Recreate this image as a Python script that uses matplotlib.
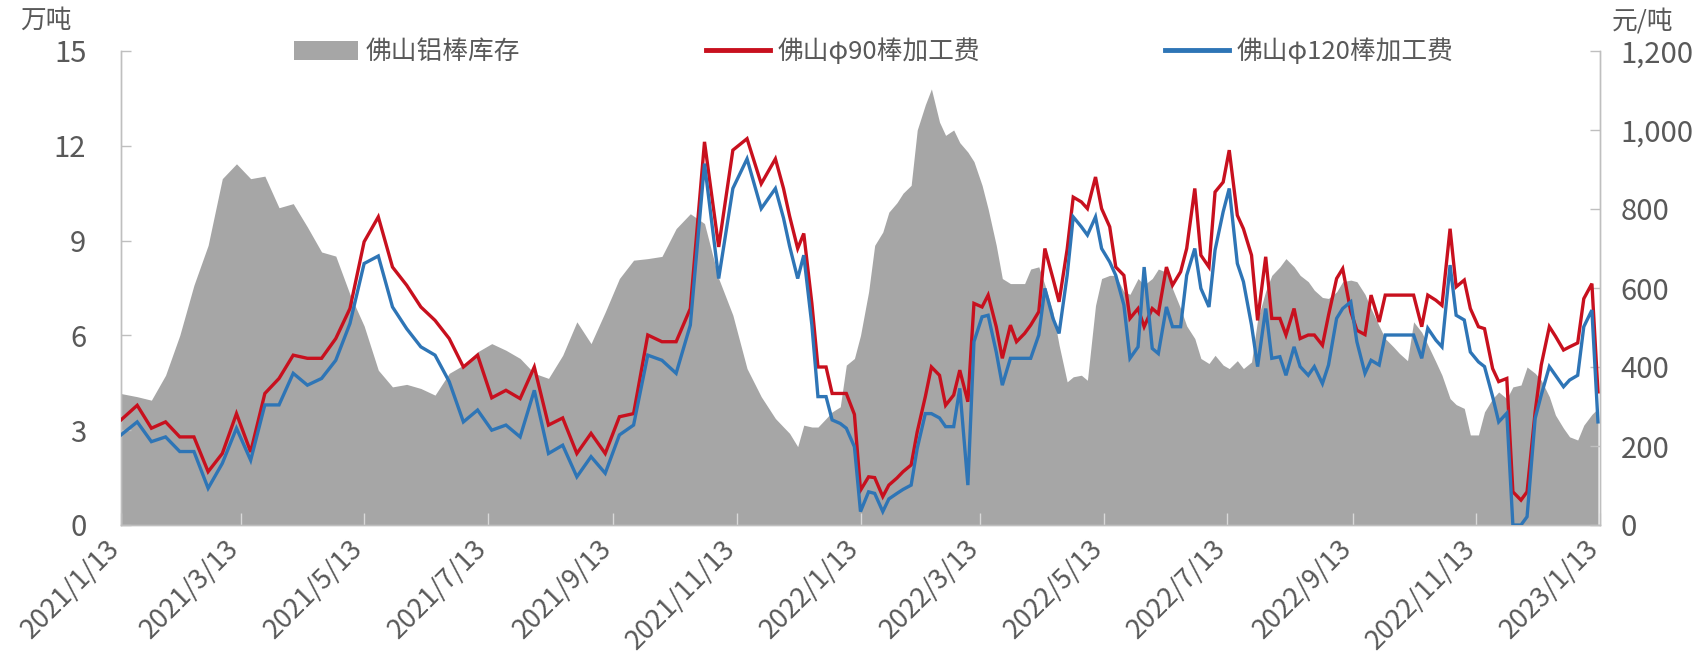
import numpy as np
import pandas as pd
import matplotlib
matplotlib.use("Agg")
import matplotlib.pyplot as plt
from matplotlib.patches import Patch
from matplotlib.lines import Line2D
from matplotlib.ticker import FixedLocator, FuncFormatter
import matplotlib.dates as mdates

plt.rcParams['font.family'] = ['Noto Sans CJK SC', 'DejaVu Sans']

# Weekly (Thursday) reports; the series opens on 2021-01-13
thu_dates = pd.DatetimeIndex(['2021-01-13']).append(
    pd.date_range('2021-01-21', '2023-01-12', freq='W-THU'))
# Additional Monday reports from December 2021 onward
mon_dates = pd.date_range('2021-12-06', '2023-01-09', freq='W-MON')

# Foshan aluminium rod inventory, 10k tonnes
inventory_thu = [4.16, 4.06, 3.95, 4.74, 6.0, 7.59, 8.85, 10.96, 11.43, 10.96,
                 11.04, 10.04, 10.17, 9.43, 8.64, 8.51, 7.3, 6.3, 4.9, 4.37,
                 4.45, 4.32, 4.11, 4.8, 5.06, 5.48, 5.74, 5.53, 5.27, 4.8,
                 4.64, 5.37, 6.43, 5.74, 6.74, 7.8, 8.38, 8.43, 8.5, 9.38,
                 9.85, 9.54, 7.8, 6.64, 4.95, 4.06, 3.37, 2.9, 3.16, 3.1,
                 3.58, 5.06, 6.0, 8.85, 9.9, 10.5, 12.5, 13.8, 12.33, 12.1,
                 11.5, 10.0, 7.8, 7.64, 8.1, 7.6, 5.7, 4.69, 4.58, 7.8,
                 7.9, 7.3, 7.6, 8.1, 7.48, 6.3, 5.27, 5.37, 4.95, 4.95,
                 6.5, 7.9, 8.43, 7.9, 7.43, 7.17, 7.7, 7.7, 6.85, 5.9,
                 5.43, 6.43, 5.7, 4.74, 3.81, 2.85, 3.58, 4.21, 4.37, 5.0,
                 4.58, 3.48, 2.79, 3.16, 3.69]
inventory_mon = [3.1, 2.48, 3.1, 3.37, 3.74, 5.27, 7.38, 9.27, 10.2, 10.75,
                 13.3, 12.75, 12.5, 11.8, 10.75, 8.85, 7.64, 7.64, 8.17, 6.74,
                 4.53, 4.74, 6.95, 7.9, 7.38, 7.8, 7.8, 8.0, 6.85, 5.9,
                 5.11, 5.06, 5.2, 5.16, 7.4, 8.17, 8.17, 7.7, 7.2, 7.38,
                 7.75, 7.3, 6.3, 5.64, 5.2, 6.1, 5.16, 4.0, 3.69, 2.85,
                 4.0, 4.0, 4.43, 4.8, 4.06, 3.06, 2.69, 3.5]

# Processing fee, phi-90 rod, yuan/tonne
fee90_thu = [266, 303, 245, 261, 223, 223, 135, 181, 282, 185,
             333, 371, 430, 422, 422, 472, 548, 717, 780, 653,
             607, 552, 518, 472, 400, 430, 322, 341, 320, 400,
             253, 271, 181, 232, 181, 274, 282, 481, 464, 464,
             548, 970, 704, 949, 978, 864, 927, 782, 738, 400,
             333, 333, 88, 120, 101, 135, 236, 400, 303, 392,
             561, 582, 422, 464, 506, 700, 565, 830, 801, 801,
             653, 523, 502, 535, 607, 700, 683, 843, 949, 750,
             518, 523, 481, 472, 481, 531, 649, 493, 582, 582,
             582, 582, 582, 556, 603, 548, 497, 363, 84, 84,
             405, 478, 451, 573, 337]
fee90_mon = [852, 700, 561, 400, 333, 280, 122, 72, 119, 152,
             325, 379, 329, 312, 552, 502, 506, 485, 540, 624,
             698, 818, 881, 755, 632, 548, 548, 653, 641, 852,
             653, 868, 784, 683, 679, 523, 548, 481, 455, 624,
             540, 482, 514, 582, 582, 502, 569, 750, 620, 502,
             396, 371, 63, 287, 502, 443, 461, 611]

# Processing fee, phi-120 rod, yuan/tonne
fee120_thu = [228, 261, 211, 223, 186, 186, 93, 156, 245, 164,
              304, 304, 384, 354, 371, 417, 510, 662, 681, 552,
              497, 451, 430, 363, 261, 291, 240, 253, 223, 341,
              181, 202, 122, 173, 131, 228, 253, 430, 417, 384,
              506, 915, 624, 852, 927, 801, 852, 706, 683, 325,
              266, 245, 34, 80, 66, 90, 194, 282, 249, 346,
              464, 531, 354, 422, 422, 599, 485, 780, 734, 700,
              632, 422, 653, 434, 502, 632, 599, 696, 852, 616,
              401, 422, 379, 401, 401, 405, 548, 464, 417, 481,
              481, 481, 498, 451, 531, 438, 401, 261, 0, 21,
              329, 379, 367, 502, 261]
fee120_mon = [777, 624, 506, 325, 257, 198, 84, 34, 80, 101,
              282, 271, 249, 101, 527, 438, 422, 422, 481, 523,
              632, 755, 780, 666, 557, 451, 447, 552, 502, 700,
              552, 793, 662, 506, 548, 426, 451, 379, 358, 523,
              565, 384, 405, 481, 481, 422, 468, 658, 519, 413,
              325, 283, 0, 270, 401, 350, 379, 544]

series_names = ['佛山铝棒库存', '佛山φ90棒加工费', '佛山φ120棒加工费']
left_unit, right_unit = '万吨', '元/吨'


def merged(thu_vals, mon_vals):
    s = pd.concat([pd.Series(thu_vals, index=thu_dates),
                   pd.Series(mon_vals, index=mon_dates)])
    return s.sort_index()


inventory = merged(inventory_thu, inventory_mon)
fee90 = merged(fee90_thu, fee90_mon)
fee120 = merged(fee120_thu, fee120_mon)

GRAY_TXT = '#595959'
AXIS_CLR = '#BFBFBF'
FS_TICK = 21
FS_DATE = 19.5
FS_LEG = 18.5

W, H = 1703, 661
fig = plt.figure(figsize=(W / 100, H / 100), dpi=100)
x0, x1, y0, y1 = 121, 1600, 51, 525
ax = fig.add_axes([x0 / W, 1 - y1 / H, (x1 - x0) / W, (y1 - y0) / H])
ax2 = ax.twinx()

ax.fill_between(inventory.index, inventory.values, 0, color='#A6A6A6',
                lw=0, zorder=1)
ax2.plot(fee90.index, fee90.values, color='#C8101E', lw=2.4,
         solid_joinstyle='miter', zorder=3)
ax2.plot(fee120.index, fee120.values, color='#2E75B6', lw=2.4,
         solid_joinstyle='miter', zorder=4)

start, end = pd.Timestamp('2021-01-13'), pd.Timestamp('2023-01-13')
ax.set_xlim(start, end)
ax.set_ylim(0, 15)
ax2.set_ylim(0, 1200)

xticks = [start + pd.DateOffset(months=2 * k) for k in range(13)]
ax.xaxis.set_major_locator(FixedLocator(mdates.date2num(xticks)))
ax.xaxis.set_major_formatter(FuncFormatter(
    lambda v, p: (lambda d: f'{d.year}/{d.month}/{d.day}')(mdates.num2date(v))))
ax.set_yticks(range(0, 16, 3))
ax2.set_yticks(range(0, 1201, 200))
ax2.yaxis.set_major_formatter(FuncFormatter(lambda v, p: f'{int(v):,}'))

ax.tick_params(axis='x', direction='in', length=9, width=1, color='#D9D9D9',
               labelsize=FS_DATE, labelcolor=GRAY_TXT, pad=18)
for lab in ax.get_xticklabels():
    lab.set_rotation(45)
    lab.set_ha('right')
    lab.set_va('baseline')
    lab.set_rotation_mode('anchor')

ax.tick_params(axis='y', direction='in', length=7, width=1, color=AXIS_CLR,
               labelsize=FS_TICK, labelcolor=GRAY_TXT, pad=25)
ax2.tick_params(axis='y', direction='in', length=7, width=1, color=AXIS_CLR,
                labelsize=FS_TICK, labelcolor=GRAY_TXT, pad=15)

for a in (ax, ax2):
    a.spines['top'].set_visible(False)
    for side in ('left', 'right', 'bottom'):
        a.spines[side].set_color(AXIS_CLR)
        a.spines[side].set_linewidth(1)

fig.text(46 / W, 1 - 21 / H, left_unit, ha='center', va='center',
         fontsize=FS_LEG, color=GRAY_TXT)
fig.text(1643 / W, 1 - 22 / H, right_unit, ha='center', va='center',
         fontsize=FS_LEG, color=GRAY_TXT)

handles = [Patch(facecolor='#A6A6A6', edgecolor='none'),
           Line2D([], [], color='#C8101E', lw=3.5),
           Line2D([], [], color='#2E75B6', lw=3.5)]
ax2.legend(handles, series_names, loc='center',
           bbox_to_anchor=(874 / W, 1 - 52 / H), bbox_transform=fig.transFigure,
           ncol=3, frameon=False, fontsize=FS_LEG, labelcolor=GRAY_TXT,
           handlelength=2.5, handleheight=0.75, handletextpad=0.3,
           columnspacing=7.2, borderpad=0)

fig.savefig('out.png', dpi=100)
